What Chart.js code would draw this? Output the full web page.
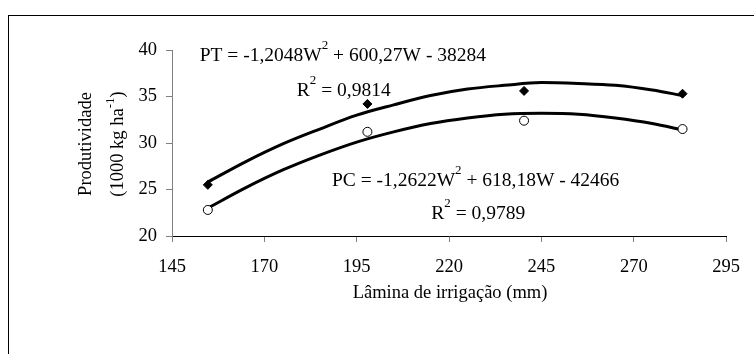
<!DOCTYPE html>
<html>
<head>
<meta charset="utf-8">
<script src="https://cdn.jsdelivr.net/npm/chart.js@4.4.1/dist/chart.umd.min.js"></script>
<style>
  html, body { margin: 0; padding: 0; background: #fff; }
  canvas { display: block; }
</style>
</head>
<body>
<canvas id="c" width="754" height="354"></canvas>
<script>
const irrigation = [154.7, 197.9, 240.3, 283.2];           // mm
const ptObserved = [25.5, 34.2, 35.6, 35.3];               // 1000 kg/ha
const pcObserved = [22.8, 31.2, 32.4, 31.5];               // 1000 kg/ha

// Trend lines
const curveW  = [154.7, 165, 175, 185, 195, 205, 215, 225, 235, 245, 255, 265, 275, 283.2];
const ptCurve = [25.8, 28.0, 29.9, 31.5, 33.0, 34.1, 35.1, 35.8, 36.2, 36.5, 36.4, 36.2, 35.7, 35.1];
const pcCurve = [23.0, 25.2, 27.1, 28.7, 30.1, 31.2, 32.1, 32.7, 33.1, 33.2, 33.1, 32.7, 32.1, 31.4];

// Axis settings
const xTicks = { min: 145, max: 295, step: 25 };
const yTicks = { min: 20, max: 40, step: 5 };

// Texts
const xTitle = 'Lâmina de irrigação (mm)';
const yTitle1 = 'Produtividade';
const yTitle2 = [{ t: '(1000 kg ha' }, { t: '-1', sup: true }, { t: ')' }];
const ptEquation = [{ t: 'PT = -1,2048W' }, { t: '2', sup: true }, { t: ' + 600,27W - 38284' }];
const ptR2 = [{ t: 'R' }, { t: '2', sup: true }, { t: ' = 0,9814' }];
const pcEquation = [{ t: 'PC = -1,2622W' }, { t: '2', sup: true }, { t: ' + 618,18W - 42466' }];
const pcR2 = [{ t: 'R' }, { t: '2', sup: true }, { t: ' = 0,9789' }];

const FAMILY = '"Liberation Serif", "Times New Roman", serif';
const FS = 18.5;     // axis text
const EQ = 19.5;     // equation text
const SUP = 13;

const toXY = (xs, ys) => xs.map((x, i) => ({ x: x, y: ys[i] }));

function richWidth(ctx, parts, size) {
  let w = 0;
  parts.forEach(p => {
    ctx.font = (p.sup ? SUP : size) + 'px ' + FAMILY;
    w += ctx.measureText(p.t).width;
  });
  return w;
}
function drawRich(ctx, x, y, parts, size, raise) {
  ctx.textAlign = 'left';
  ctx.textBaseline = 'alphabetic';
  let cx = x;
  parts.forEach(p => {
    ctx.font = (p.sup ? SUP : size) + 'px ' + FAMILY;
    ctx.fillText(p.t, cx, p.sup ? y - raise : y);
    cx += ctx.measureText(p.t).width;
  });
}

const decor = {
  id: 'decor',
  beforeDraw(chart) {
    const ctx = chart.ctx;
    ctx.save();
    ctx.fillStyle = '#fff';
    ctx.fillRect(0, 0, chart.width, chart.height);
    ctx.strokeStyle = '#000';
    ctx.lineWidth = 1;
    ctx.strokeRect(8.5, 15.5, 800, 400);
    ctx.restore();
  },
  afterDraw(chart) {
    const ctx = chart.ctx;
    const xs = chart.scales.x, ys = chart.scales.y;
    ctx.save();
    ctx.fillStyle = '#000';
    // annotations anchored to data coordinates of the axes
    drawRich(ctx, xs.getPixelForValue(152.5), ys.getPixelForValue(38.8), ptEquation, EQ, 12);
    drawRich(ctx, xs.getPixelForValue(178.8), ys.getPixelForValue(35.1), ptR2, EQ, 12);
    drawRich(ctx, xs.getPixelForValue(188.3), ys.getPixelForValue(25.4), pcEquation, EQ, 12);
    drawRich(ctx, xs.getPixelForValue(215.2), ys.getPixelForValue(21.8), pcR2, EQ, 12);

    // x title
    ctx.font = FS + 'px ' + FAMILY;
    ctx.textAlign = 'center';
    ctx.textBaseline = 'alphabetic';
    ctx.fillText(xTitle, 450, 298);

    // y title (two rotated lines)
    const cy = 144;
    ctx.save();
    ctx.translate(90.5, cy);
    ctx.rotate(-Math.PI / 2);
    ctx.font = FS + 'px ' + FAMILY;
    ctx.textAlign = 'center';
    ctx.fillText(yTitle1, 0, 0);
    ctx.restore();
    ctx.save();
    ctx.translate(122.5, cy);
    ctx.rotate(-Math.PI / 2);
    const w2 = richWidth(ctx, yTitle2, FS);
    drawRich(ctx, -w2 / 2, 0, yTitle2, FS, 9);
    ctx.restore();
    ctx.restore();
  }
};

new Chart(document.getElementById('c'), {
  type: 'scatter',
  data: {
    datasets: [
      {
        label: 'PT',
        data: toXY(irrigation, ptObserved),
        pointStyle: 'rectRot',
        pointRadius: 4.5,
        pointBackgroundColor: '#000',
        pointBorderColor: '#000',
        pointBorderWidth: 1,
        showLine: false,
        order: 0
      },
      {
        label: 'PC',
        data: toXY(irrigation, pcObserved),
        pointStyle: 'circle',
        pointRadius: 4.5,
        pointBackgroundColor: '#fff',
        pointBorderColor: '#000',
        pointBorderWidth: 1,
        showLine: false,
        order: 0
      },
      {
        label: 'PT trend',
        data: toXY(curveW, ptCurve),
        showLine: true,
        borderColor: '#000',
        borderWidth: 3,
        pointRadius: 0,
        cubicInterpolationMode: 'monotone',
        order: 1
      },
      {
        label: 'PC trend',
        data: toXY(curveW, pcCurve),
        showLine: true,
        borderColor: '#000',
        borderWidth: 3,
        pointRadius: 0,
        cubicInterpolationMode: 'monotone',
        order: 1
      }
    ]
  },
  options: {
    responsive: false,
    animation: false,
    devicePixelRatio: 1,
    layout: { padding: { left: 0, top: 50, right: 22.5, bottom: 0 } },
    plugins: { legend: { display: false }, tooltip: { enabled: false } },
    scales: {
      x: {
        type: 'linear',
        min: xTicks.min, max: xTicks.max,
        ticks: { stepSize: xTicks.step, color: '#000', padding: 14, font: { family: FAMILY, size: FS } },
        grid: { drawOnChartArea: false, drawTicks: true, tickLength: 6, color: '#808080' },
        border: { color: '#000', width: 1 },
        afterFit(s) { s.height = 118; }
      },
      y: {
        type: 'linear',
        min: yTicks.min, max: yTicks.max,
        ticks: { stepSize: yTicks.step, color: '#000', padding: 9, font: { family: FAMILY, size: FS } },
        grid: { drawOnChartArea: false, drawTicks: true, tickLength: 6, color: '#808080' },
        border: { color: '#808080', width: 1 },
        afterFit(s) { s.width = 172; }
      }
    }
  },
  plugins: [decor]
});
</script>
</body>
</html>
